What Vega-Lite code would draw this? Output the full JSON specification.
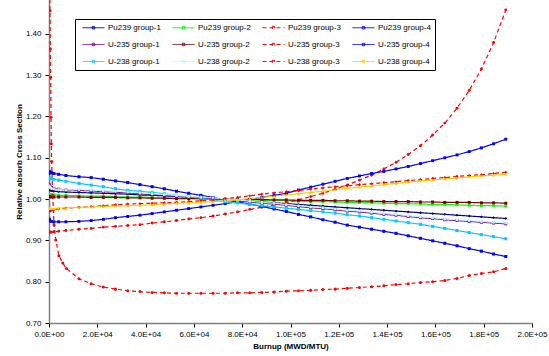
{
"$schema":"https://vega.github.io/schema/vega-lite/v6.json",
"width":483,"height":323,
"autosize":{"type":"none"},
"padding":{"left":49,"top":0,"right":17,"bottom":33},
"background":"white",
"config":{"view":{"stroke":null},"font":"Liberation Sans",
"axis":{"labelFont":"Liberation Sans","labelFontSize":8,"labelColor":"#000","titleFont":"Liberation Sans","titleFontSize":8,"titleFontWeight":"bold","titleColor":"#000","grid":false,"tickColor":"#000","tickSize":4,"domainColor":"#808080","domainWidth":1.5},
"legend":{"symbolStrokeWidth":1,"labelFont":"Liberation Sans","labelFontSize":8,"labelColor":"#000","padding":4,"rowPadding":8,"columnPadding":8,"gridAlign":"all","strokeColor":"#000","fillColor":"#fff"}},
"data":{"values":[
{"s":"Pu239 group-1","x":0,"y":1.024},{"s":"Pu239 group-1","x":200,"y":1.022},{"s":"Pu239 group-1","x":500,"y":1.021},{"s":"Pu239 group-1","x":1000,"y":1.020},{"s":"Pu239 group-1","x":2000,"y":1.019},{"s":"Pu239 group-1","x":4000,"y":1.018},{"s":"Pu239 group-1","x":7000,"y":1.017},
{"s":"Pu239 group-1","x":12400,"y":1.016},{"s":"Pu239 group-1","x":17450,"y":1.015},{"s":"Pu239 group-1","x":22500,"y":1.014},{"s":"Pu239 group-1","x":27550,"y":1.013},{"s":"Pu239 group-1","x":32600,"y":1.012},{"s":"Pu239 group-1","x":37650,"y":1.010},{"s":"Pu239 group-1","x":42700,"y":1.009},{"s":"Pu239 group-1","x":47750,"y":1.008},{"s":"Pu239 group-1","x":52800,"y":1.006},{"s":"Pu239 group-1","x":57850,"y":1.005},{"s":"Pu239 group-1","x":62900,"y":1.003},{"s":"Pu239 group-1","x":67950,"y":1.001},{"s":"Pu239 group-1","x":73000,"y":0.999},{"s":"Pu239 group-1","x":78050,"y":0.997},{"s":"Pu239 group-1","x":83100,"y":0.995},{"s":"Pu239 group-1","x":88150,"y":0.993},{"s":"Pu239 group-1","x":93200,"y":0.991},{"s":"Pu239 group-1","x":98250,"y":0.989},{"s":"Pu239 group-1","x":103300,"y":0.987},{"s":"Pu239 group-1","x":108350,"y":0.985},{"s":"Pu239 group-1","x":113400,"y":0.983},{"s":"Pu239 group-1","x":118450,"y":0.981},{"s":"Pu239 group-1","x":123500,"y":0.979},{"s":"Pu239 group-1","x":128550,"y":0.977},{"s":"Pu239 group-1","x":133600,"y":0.975},{"s":"Pu239 group-1","x":138650,"y":0.973},{"s":"Pu239 group-1","x":143700,"y":0.971},{"s":"Pu239 group-1","x":148750,"y":0.969},{"s":"Pu239 group-1","x":153800,"y":0.967},{"s":"Pu239 group-1","x":158850,"y":0.965},{"s":"Pu239 group-1","x":163900,"y":0.963},{"s":"Pu239 group-1","x":168950,"y":0.961},{"s":"Pu239 group-1","x":174000,"y":0.959},{"s":"Pu239 group-1","x":179050,"y":0.957},{"s":"Pu239 group-1","x":184100,"y":0.955},{"s":"Pu239 group-1","x":189150,"y":0.953},
{"s":"Pu239 group-2","x":0,"y":1.011},{"s":"Pu239 group-2","x":200,"y":1.011},{"s":"Pu239 group-2","x":500,"y":1.010},{"s":"Pu239 group-2","x":1000,"y":1.010},{"s":"Pu239 group-2","x":2000,"y":1.010},{"s":"Pu239 group-2","x":4000,"y":1.009},{"s":"Pu239 group-2","x":7000,"y":1.009},
{"s":"Pu239 group-2","x":12400,"y":1.008},{"s":"Pu239 group-2","x":17450,"y":1.007},{"s":"Pu239 group-2","x":22500,"y":1.007},{"s":"Pu239 group-2","x":27550,"y":1.006},{"s":"Pu239 group-2","x":32600,"y":1.005},{"s":"Pu239 group-2","x":37650,"y":1.005},{"s":"Pu239 group-2","x":42700,"y":1.004},{"s":"Pu239 group-2","x":47750,"y":1.003},{"s":"Pu239 group-2","x":52800,"y":1.002},{"s":"Pu239 group-2","x":57850,"y":1.002},{"s":"Pu239 group-2","x":62900,"y":1.001},{"s":"Pu239 group-2","x":67950,"y":1.000},{"s":"Pu239 group-2","x":73000,"y":0.999},{"s":"Pu239 group-2","x":78050,"y":0.999},{"s":"Pu239 group-2","x":83100,"y":0.998},{"s":"Pu239 group-2","x":88150,"y":0.997},{"s":"Pu239 group-2","x":93200,"y":0.997},{"s":"Pu239 group-2","x":98250,"y":0.996},{"s":"Pu239 group-2","x":103300,"y":0.995},{"s":"Pu239 group-2","x":108350,"y":0.994},{"s":"Pu239 group-2","x":113400,"y":0.994},{"s":"Pu239 group-2","x":118450,"y":0.993},{"s":"Pu239 group-2","x":123500,"y":0.992},{"s":"Pu239 group-2","x":128550,"y":0.992},{"s":"Pu239 group-2","x":133600,"y":0.991},{"s":"Pu239 group-2","x":138650,"y":0.990},{"s":"Pu239 group-2","x":143700,"y":0.989},{"s":"Pu239 group-2","x":148750,"y":0.989},{"s":"Pu239 group-2","x":153800,"y":0.988},{"s":"Pu239 group-2","x":158850,"y":0.987},{"s":"Pu239 group-2","x":163900,"y":0.987},{"s":"Pu239 group-2","x":168950,"y":0.986},{"s":"Pu239 group-2","x":174000,"y":0.985},{"s":"Pu239 group-2","x":179050,"y":0.984},{"s":"Pu239 group-2","x":184100,"y":0.984},{"s":"Pu239 group-2","x":189150,"y":0.983},
{"s":"Pu239 group-3","x":0,"y":0.921},{"s":"Pu239 group-3","x":200,"y":0.920},{"s":"Pu239 group-3","x":500,"y":0.920},{"s":"Pu239 group-3","x":1000,"y":0.920},{"s":"Pu239 group-3","x":2000,"y":0.921},{"s":"Pu239 group-3","x":4000,"y":0.922},{"s":"Pu239 group-3","x":7000,"y":0.924},
{"s":"Pu239 group-3","x":12400,"y":0.927},{"s":"Pu239 group-3","x":17450,"y":0.929},{"s":"Pu239 group-3","x":22500,"y":0.932},{"s":"Pu239 group-3","x":27550,"y":0.934},{"s":"Pu239 group-3","x":32600,"y":0.936},{"s":"Pu239 group-3","x":37650,"y":0.938},{"s":"Pu239 group-3","x":42700,"y":0.942},{"s":"Pu239 group-3","x":47750,"y":0.945},{"s":"Pu239 group-3","x":52800,"y":0.948},{"s":"Pu239 group-3","x":57850,"y":0.952},{"s":"Pu239 group-3","x":62900,"y":0.955},{"s":"Pu239 group-3","x":67950,"y":0.959},{"s":"Pu239 group-3","x":73000,"y":0.964},{"s":"Pu239 group-3","x":78050,"y":0.969},{"s":"Pu239 group-3","x":83100,"y":0.975},{"s":"Pu239 group-3","x":88150,"y":0.980},{"s":"Pu239 group-3","x":93200,"y":0.986},{"s":"Pu239 group-3","x":98250,"y":0.991},{"s":"Pu239 group-3","x":103300,"y":0.998},{"s":"Pu239 group-3","x":108350,"y":1.006},{"s":"Pu239 group-3","x":113400,"y":1.014},{"s":"Pu239 group-3","x":118450,"y":1.024},{"s":"Pu239 group-3","x":123500,"y":1.034},{"s":"Pu239 group-3","x":128550,"y":1.046},{"s":"Pu239 group-3","x":133600,"y":1.058},{"s":"Pu239 group-3","x":138650,"y":1.073},{"s":"Pu239 group-3","x":143700,"y":1.089},{"s":"Pu239 group-3","x":148750,"y":1.108},{"s":"Pu239 group-3","x":153800,"y":1.129},{"s":"Pu239 group-3","x":158850,"y":1.155},{"s":"Pu239 group-3","x":163900,"y":1.184},{"s":"Pu239 group-3","x":168950,"y":1.220},{"s":"Pu239 group-3","x":174000,"y":1.263},{"s":"Pu239 group-3","x":179050,"y":1.315},{"s":"Pu239 group-3","x":184100,"y":1.379},{"s":"Pu239 group-3","x":189150,"y":1.458},
{"s":"Pu239 group-4","x":0,"y":0.952},{"s":"Pu239 group-4","x":200,"y":0.950},{"s":"Pu239 group-4","x":500,"y":0.947},{"s":"Pu239 group-4","x":1000,"y":0.946},{"s":"Pu239 group-4","x":2000,"y":0.945},{"s":"Pu239 group-4","x":4000,"y":0.945},{"s":"Pu239 group-4","x":7000,"y":0.945},
{"s":"Pu239 group-4","x":12400,"y":0.946},{"s":"Pu239 group-4","x":17450,"y":0.948},{"s":"Pu239 group-4","x":22500,"y":0.951},{"s":"Pu239 group-4","x":27550,"y":0.955},{"s":"Pu239 group-4","x":32600,"y":0.958},{"s":"Pu239 group-4","x":37650,"y":0.961},{"s":"Pu239 group-4","x":42700,"y":0.965},{"s":"Pu239 group-4","x":47750,"y":0.969},{"s":"Pu239 group-4","x":52800,"y":0.973},{"s":"Pu239 group-4","x":57850,"y":0.977},{"s":"Pu239 group-4","x":62900,"y":0.981},{"s":"Pu239 group-4","x":67950,"y":0.985},{"s":"Pu239 group-4","x":73000,"y":0.989},{"s":"Pu239 group-4","x":78050,"y":0.994},{"s":"Pu239 group-4","x":83100,"y":0.999},{"s":"Pu239 group-4","x":88150,"y":1.004},{"s":"Pu239 group-4","x":93200,"y":1.009},{"s":"Pu239 group-4","x":98250,"y":1.014},{"s":"Pu239 group-4","x":103300,"y":1.022},{"s":"Pu239 group-4","x":108350,"y":1.029},{"s":"Pu239 group-4","x":113400,"y":1.036},{"s":"Pu239 group-4","x":118450,"y":1.043},{"s":"Pu239 group-4","x":123500,"y":1.050},{"s":"Pu239 group-4","x":128550,"y":1.056},{"s":"Pu239 group-4","x":133600,"y":1.062},{"s":"Pu239 group-4","x":138650,"y":1.067},{"s":"Pu239 group-4","x":143700,"y":1.073},{"s":"Pu239 group-4","x":148750,"y":1.079},{"s":"Pu239 group-4","x":153800,"y":1.086},{"s":"Pu239 group-4","x":158850,"y":1.093},{"s":"Pu239 group-4","x":163900,"y":1.100},{"s":"Pu239 group-4","x":168950,"y":1.107},{"s":"Pu239 group-4","x":174000,"y":1.115},{"s":"Pu239 group-4","x":179050,"y":1.124},{"s":"Pu239 group-4","x":184100,"y":1.134},{"s":"Pu239 group-4","x":189150,"y":1.145},
{"s":"U-235 group-1","x":0,"y":1.036},{"s":"U-235 group-1","x":200,"y":1.033},{"s":"U-235 group-1","x":500,"y":1.030},{"s":"U-235 group-1","x":1000,"y":1.028},{"s":"U-235 group-1","x":2000,"y":1.026},{"s":"U-235 group-1","x":4000,"y":1.024},{"s":"U-235 group-1","x":7000,"y":1.022},
{"s":"U-235 group-1","x":12400,"y":1.021},{"s":"U-235 group-1","x":17450,"y":1.020},{"s":"U-235 group-1","x":22500,"y":1.018},{"s":"U-235 group-1","x":27550,"y":1.017},{"s":"U-235 group-1","x":32600,"y":1.015},{"s":"U-235 group-1","x":37650,"y":1.013},{"s":"U-235 group-1","x":42700,"y":1.011},{"s":"U-235 group-1","x":47750,"y":1.009},{"s":"U-235 group-1","x":52800,"y":1.007},{"s":"U-235 group-1","x":57850,"y":1.005},{"s":"U-235 group-1","x":62900,"y":1.003},{"s":"U-235 group-1","x":67950,"y":1.001},{"s":"U-235 group-1","x":73000,"y":0.998},{"s":"U-235 group-1","x":78050,"y":0.996},{"s":"U-235 group-1","x":83100,"y":0.993},{"s":"U-235 group-1","x":88150,"y":0.990},{"s":"U-235 group-1","x":93200,"y":0.988},{"s":"U-235 group-1","x":98250,"y":0.985},{"s":"U-235 group-1","x":103300,"y":0.982},{"s":"U-235 group-1","x":108350,"y":0.979},{"s":"U-235 group-1","x":113400,"y":0.977},{"s":"U-235 group-1","x":118450,"y":0.974},{"s":"U-235 group-1","x":123500,"y":0.971},{"s":"U-235 group-1","x":128550,"y":0.969},{"s":"U-235 group-1","x":133600,"y":0.966},{"s":"U-235 group-1","x":138650,"y":0.963},{"s":"U-235 group-1","x":143700,"y":0.961},{"s":"U-235 group-1","x":148750,"y":0.958},{"s":"U-235 group-1","x":153800,"y":0.955},{"s":"U-235 group-1","x":158850,"y":0.953},{"s":"U-235 group-1","x":163900,"y":0.950},{"s":"U-235 group-1","x":168950,"y":0.948},{"s":"U-235 group-1","x":174000,"y":0.946},{"s":"U-235 group-1","x":179050,"y":0.944},{"s":"U-235 group-1","x":184100,"y":0.942},{"s":"U-235 group-1","x":189150,"y":0.940},
{"s":"U-235 group-2","x":0,"y":1.006},{"s":"U-235 group-2","x":200,"y":1.006},{"s":"U-235 group-2","x":500,"y":1.006},{"s":"U-235 group-2","x":1000,"y":1.005},{"s":"U-235 group-2","x":2000,"y":1.005},{"s":"U-235 group-2","x":4000,"y":1.005},{"s":"U-235 group-2","x":7000,"y":1.005},
{"s":"U-235 group-2","x":12400,"y":1.005},{"s":"U-235 group-2","x":17450,"y":1.004},{"s":"U-235 group-2","x":22500,"y":1.004},{"s":"U-235 group-2","x":27550,"y":1.004},{"s":"U-235 group-2","x":32600,"y":1.003},{"s":"U-235 group-2","x":37650,"y":1.003},{"s":"U-235 group-2","x":42700,"y":1.002},{"s":"U-235 group-2","x":47750,"y":1.002},{"s":"U-235 group-2","x":52800,"y":1.001},{"s":"U-235 group-2","x":57850,"y":1.001},{"s":"U-235 group-2","x":62900,"y":1.001},{"s":"U-235 group-2","x":67950,"y":1.000},{"s":"U-235 group-2","x":73000,"y":1.000},{"s":"U-235 group-2","x":78050,"y":0.999},{"s":"U-235 group-2","x":83100,"y":0.999},{"s":"U-235 group-2","x":88150,"y":0.999},{"s":"U-235 group-2","x":93200,"y":0.998},{"s":"U-235 group-2","x":98250,"y":0.998},{"s":"U-235 group-2","x":103300,"y":0.997},{"s":"U-235 group-2","x":108350,"y":0.997},{"s":"U-235 group-2","x":113400,"y":0.997},{"s":"U-235 group-2","x":118450,"y":0.996},{"s":"U-235 group-2","x":123500,"y":0.996},{"s":"U-235 group-2","x":128550,"y":0.995},{"s":"U-235 group-2","x":133600,"y":0.995},{"s":"U-235 group-2","x":138650,"y":0.994},{"s":"U-235 group-2","x":143700,"y":0.994},{"s":"U-235 group-2","x":148750,"y":0.994},{"s":"U-235 group-2","x":153800,"y":0.993},{"s":"U-235 group-2","x":158850,"y":0.993},{"s":"U-235 group-2","x":163900,"y":0.992},{"s":"U-235 group-2","x":168950,"y":0.992},{"s":"U-235 group-2","x":174000,"y":0.992},{"s":"U-235 group-2","x":179050,"y":0.991},{"s":"U-235 group-2","x":184100,"y":0.991},{"s":"U-235 group-2","x":189150,"y":0.990},
{"s":"U-235 group-3","x":0,"y":1.62},{"s":"U-235 group-3","x":400,"y":1.456},{"s":"U-235 group-3","x":550,"y":1.364},{"s":"U-235 group-3","x":700,"y":1.295},{"s":"U-235 group-3","x":850,"y":1.198},{"s":"U-235 group-3","x":950,"y":1.134},{"s":"U-235 group-3","x":1100,"y":1.091},{"s":"U-235 group-3","x":1500,"y":1.010},{"s":"U-235 group-3","x":2100,"y":0.937},{"s":"U-235 group-3","x":2800,"y":0.901},{"s":"U-235 group-3","x":4100,"y":0.863},{"s":"U-235 group-3","x":5700,"y":0.845},{"s":"U-235 group-3","x":7200,"y":0.832},
{"s":"U-235 group-3","x":12400,"y":0.807},{"s":"U-235 group-3","x":17450,"y":0.795},{"s":"U-235 group-3","x":22500,"y":0.787},{"s":"U-235 group-3","x":27550,"y":0.782},{"s":"U-235 group-3","x":32600,"y":0.778},{"s":"U-235 group-3","x":37650,"y":0.776},{"s":"U-235 group-3","x":42700,"y":0.774},{"s":"U-235 group-3","x":47750,"y":0.773},{"s":"U-235 group-3","x":52800,"y":0.772},{"s":"U-235 group-3","x":57850,"y":0.772},{"s":"U-235 group-3","x":62900,"y":0.772},{"s":"U-235 group-3","x":67950,"y":0.772},{"s":"U-235 group-3","x":73000,"y":0.772},{"s":"U-235 group-3","x":78050,"y":0.773},{"s":"U-235 group-3","x":83100,"y":0.773},{"s":"U-235 group-3","x":88150,"y":0.774},{"s":"U-235 group-3","x":93200,"y":0.775},{"s":"U-235 group-3","x":98250,"y":0.777},{"s":"U-235 group-3","x":103300,"y":0.778},{"s":"U-235 group-3","x":108350,"y":0.779},{"s":"U-235 group-3","x":113400,"y":0.781},{"s":"U-235 group-3","x":118450,"y":0.782},{"s":"U-235 group-3","x":123500,"y":0.784},{"s":"U-235 group-3","x":128550,"y":0.786},{"s":"U-235 group-3","x":133600,"y":0.788},{"s":"U-235 group-3","x":138650,"y":0.790},{"s":"U-235 group-3","x":143700,"y":0.793},{"s":"U-235 group-3","x":148750,"y":0.795},{"s":"U-235 group-3","x":153800,"y":0.798},{"s":"U-235 group-3","x":158850,"y":0.800},{"s":"U-235 group-3","x":163900,"y":0.803},{"s":"U-235 group-3","x":168950,"y":0.808},{"s":"U-235 group-3","x":174000,"y":0.815},{"s":"U-235 group-3","x":179050,"y":0.820},{"s":"U-235 group-3","x":184100,"y":0.824},{"s":"U-235 group-3","x":189150,"y":0.832},
{"s":"U-235 group-4","x":0,"y":1.062},{"s":"U-235 group-4","x":200,"y":1.066},{"s":"U-235 group-4","x":500,"y":1.065},{"s":"U-235 group-4","x":1000,"y":1.064},{"s":"U-235 group-4","x":2000,"y":1.062},{"s":"U-235 group-4","x":4000,"y":1.060},{"s":"U-235 group-4","x":7000,"y":1.057},
{"s":"U-235 group-4","x":12400,"y":1.054},{"s":"U-235 group-4","x":17450,"y":1.052},{"s":"U-235 group-4","x":22500,"y":1.048},{"s":"U-235 group-4","x":27550,"y":1.044},{"s":"U-235 group-4","x":32600,"y":1.040},{"s":"U-235 group-4","x":37650,"y":1.035},{"s":"U-235 group-4","x":42700,"y":1.030},{"s":"U-235 group-4","x":47750,"y":1.025},{"s":"U-235 group-4","x":52800,"y":1.019},{"s":"U-235 group-4","x":57850,"y":1.014},{"s":"U-235 group-4","x":62900,"y":1.009},{"s":"U-235 group-4","x":67950,"y":1.004},{"s":"U-235 group-4","x":73000,"y":0.998},{"s":"U-235 group-4","x":78050,"y":0.993},{"s":"U-235 group-4","x":83100,"y":0.988},{"s":"U-235 group-4","x":88150,"y":0.982},{"s":"U-235 group-4","x":93200,"y":0.976},{"s":"U-235 group-4","x":98250,"y":0.970},{"s":"U-235 group-4","x":103300,"y":0.963},{"s":"U-235 group-4","x":108350,"y":0.957},{"s":"U-235 group-4","x":113400,"y":0.950},{"s":"U-235 group-4","x":118450,"y":0.944},{"s":"U-235 group-4","x":123500,"y":0.937},{"s":"U-235 group-4","x":128550,"y":0.932},{"s":"U-235 group-4","x":133600,"y":0.927},{"s":"U-235 group-4","x":138650,"y":0.922},{"s":"U-235 group-4","x":143700,"y":0.917},{"s":"U-235 group-4","x":148750,"y":0.911},{"s":"U-235 group-4","x":153800,"y":0.905},{"s":"U-235 group-4","x":158850,"y":0.899},{"s":"U-235 group-4","x":163900,"y":0.893},{"s":"U-235 group-4","x":168950,"y":0.887},{"s":"U-235 group-4","x":174000,"y":0.880},{"s":"U-235 group-4","x":179050,"y":0.874},{"s":"U-235 group-4","x":184100,"y":0.867},{"s":"U-235 group-4","x":189150,"y":0.861},
{"s":"U-238 group-1","x":0,"y":1.053},{"s":"U-238 group-1","x":200,"y":1.052},{"s":"U-238 group-1","x":500,"y":1.050},{"s":"U-238 group-1","x":1000,"y":1.049},{"s":"U-238 group-1","x":2000,"y":1.048},{"s":"U-238 group-1","x":4000,"y":1.046},{"s":"U-238 group-1","x":7000,"y":1.043},
{"s":"U-238 group-1","x":12400,"y":1.038},{"s":"U-238 group-1","x":17450,"y":1.034},{"s":"U-238 group-1","x":22500,"y":1.030},{"s":"U-238 group-1","x":27550,"y":1.025},{"s":"U-238 group-1","x":32600,"y":1.021},{"s":"U-238 group-1","x":37650,"y":1.019},{"s":"U-238 group-1","x":42700,"y":1.016},{"s":"U-238 group-1","x":47750,"y":1.013},{"s":"U-238 group-1","x":52800,"y":1.009},{"s":"U-238 group-1","x":57850,"y":1.006},{"s":"U-238 group-1","x":62900,"y":1.002},{"s":"U-238 group-1","x":67950,"y":0.998},{"s":"U-238 group-1","x":73000,"y":0.994},{"s":"U-238 group-1","x":78050,"y":0.991},{"s":"U-238 group-1","x":83100,"y":0.987},{"s":"U-238 group-1","x":88150,"y":0.984},{"s":"U-238 group-1","x":93200,"y":0.981},{"s":"U-238 group-1","x":98250,"y":0.978},{"s":"U-238 group-1","x":103300,"y":0.975},{"s":"U-238 group-1","x":108350,"y":0.972},{"s":"U-238 group-1","x":113400,"y":0.969},{"s":"U-238 group-1","x":118450,"y":0.966},{"s":"U-238 group-1","x":123500,"y":0.962},{"s":"U-238 group-1","x":128550,"y":0.959},{"s":"U-238 group-1","x":133600,"y":0.955},{"s":"U-238 group-1","x":138650,"y":0.951},{"s":"U-238 group-1","x":143700,"y":0.947},{"s":"U-238 group-1","x":148750,"y":0.943},{"s":"U-238 group-1","x":153800,"y":0.939},{"s":"U-238 group-1","x":158850,"y":0.934},{"s":"U-238 group-1","x":163900,"y":0.929},{"s":"U-238 group-1","x":168950,"y":0.924},{"s":"U-238 group-1","x":174000,"y":0.919},{"s":"U-238 group-1","x":179050,"y":0.914},{"s":"U-238 group-1","x":184100,"y":0.909},{"s":"U-238 group-1","x":189150,"y":0.904},
{"s":"U-238 group-2","x":0,"y":1.032},{"s":"U-238 group-2","x":200,"y":1.030},{"s":"U-238 group-2","x":500,"y":1.028},{"s":"U-238 group-2","x":1000,"y":1.026},{"s":"U-238 group-2","x":2000,"y":1.025},{"s":"U-238 group-2","x":4000,"y":1.023},{"s":"U-238 group-2","x":7000,"y":1.022},
{"s":"U-238 group-2","x":12400,"y":1.023},{"s":"U-238 group-2","x":17450,"y":1.022},{"s":"U-238 group-2","x":22500,"y":1.020},{"s":"U-238 group-2","x":27550,"y":1.019},{"s":"U-238 group-2","x":32600,"y":1.017},{"s":"U-238 group-2","x":37650,"y":1.015},{"s":"U-238 group-2","x":42700,"y":1.013},{"s":"U-238 group-2","x":47750,"y":1.011},{"s":"U-238 group-2","x":52800,"y":1.009},{"s":"U-238 group-2","x":57850,"y":1.007},{"s":"U-238 group-2","x":62900,"y":1.005},{"s":"U-238 group-2","x":67950,"y":1.003},{"s":"U-238 group-2","x":73000,"y":1.000},{"s":"U-238 group-2","x":78050,"y":0.998},{"s":"U-238 group-2","x":83100,"y":0.995},{"s":"U-238 group-2","x":88150,"y":0.992},{"s":"U-238 group-2","x":93200,"y":0.990},{"s":"U-238 group-2","x":98250,"y":0.987},{"s":"U-238 group-2","x":103300,"y":0.984},{"s":"U-238 group-2","x":108350,"y":0.981},{"s":"U-238 group-2","x":113400,"y":0.979},{"s":"U-238 group-2","x":118450,"y":0.976},{"s":"U-238 group-2","x":123500,"y":0.973},{"s":"U-238 group-2","x":128550,"y":0.971},{"s":"U-238 group-2","x":133600,"y":0.968},{"s":"U-238 group-2","x":138650,"y":0.965},{"s":"U-238 group-2","x":143700,"y":0.963},{"s":"U-238 group-2","x":148750,"y":0.960},{"s":"U-238 group-2","x":153800,"y":0.957},{"s":"U-238 group-2","x":158850,"y":0.955},{"s":"U-238 group-2","x":163900,"y":0.952},{"s":"U-238 group-2","x":168950,"y":0.950},{"s":"U-238 group-2","x":174000,"y":0.948},{"s":"U-238 group-2","x":179050,"y":0.946},{"s":"U-238 group-2","x":184100,"y":0.944},{"s":"U-238 group-2","x":189150,"y":0.942},
{"s":"U-238 group-3","x":0,"y":0.970},{"s":"U-238 group-3","x":200,"y":0.971},{"s":"U-238 group-3","x":500,"y":0.972},{"s":"U-238 group-3","x":1000,"y":0.973},{"s":"U-238 group-3","x":2000,"y":0.974},{"s":"U-238 group-3","x":4000,"y":0.976},{"s":"U-238 group-3","x":7000,"y":0.978},
{"s":"U-238 group-3","x":12400,"y":0.980},{"s":"U-238 group-3","x":17450,"y":0.982},{"s":"U-238 group-3","x":22500,"y":0.984},{"s":"U-238 group-3","x":27550,"y":0.986},{"s":"U-238 group-3","x":32600,"y":0.988},{"s":"U-238 group-3","x":37650,"y":0.989},{"s":"U-238 group-3","x":42700,"y":0.990},{"s":"U-238 group-3","x":47750,"y":0.991},{"s":"U-238 group-3","x":52800,"y":0.992},{"s":"U-238 group-3","x":57850,"y":0.994},{"s":"U-238 group-3","x":62900,"y":0.996},{"s":"U-238 group-3","x":67950,"y":0.998},{"s":"U-238 group-3","x":73000,"y":1.001},{"s":"U-238 group-3","x":78050,"y":1.004},{"s":"U-238 group-3","x":83100,"y":1.008},{"s":"U-238 group-3","x":88150,"y":1.012},{"s":"U-238 group-3","x":93200,"y":1.015},{"s":"U-238 group-3","x":98250,"y":1.018},{"s":"U-238 group-3","x":103300,"y":1.021},{"s":"U-238 group-3","x":108350,"y":1.024},{"s":"U-238 group-3","x":113400,"y":1.027},{"s":"U-238 group-3","x":118450,"y":1.030},{"s":"U-238 group-3","x":123500,"y":1.032},{"s":"U-238 group-3","x":128550,"y":1.035},{"s":"U-238 group-3","x":133600,"y":1.037},{"s":"U-238 group-3","x":138650,"y":1.040},{"s":"U-238 group-3","x":143700,"y":1.042},{"s":"U-238 group-3","x":148750,"y":1.045},{"s":"U-238 group-3","x":153800,"y":1.047},{"s":"U-238 group-3","x":158850,"y":1.050},{"s":"U-238 group-3","x":163900,"y":1.052},{"s":"U-238 group-3","x":168950,"y":1.055},{"s":"U-238 group-3","x":174000,"y":1.057},{"s":"U-238 group-3","x":179050,"y":1.059},{"s":"U-238 group-3","x":184100,"y":1.062},{"s":"U-238 group-3","x":189150,"y":1.065},
{"s":"U-238 group-4","x":0,"y":0.978},{"s":"U-238 group-4","x":200,"y":0.977},{"s":"U-238 group-4","x":500,"y":0.977},{"s":"U-238 group-4","x":1000,"y":0.977},{"s":"U-238 group-4","x":2000,"y":0.977},{"s":"U-238 group-4","x":4000,"y":0.978},{"s":"U-238 group-4","x":7000,"y":0.979},
{"s":"U-238 group-4","x":12400,"y":0.980},{"s":"U-238 group-4","x":17450,"y":0.981},{"s":"U-238 group-4","x":22500,"y":0.982},{"s":"U-238 group-4","x":27550,"y":0.983},{"s":"U-238 group-4","x":32600,"y":0.984},{"s":"U-238 group-4","x":37650,"y":0.985},{"s":"U-238 group-4","x":42700,"y":0.986},{"s":"U-238 group-4","x":47750,"y":0.988},{"s":"U-238 group-4","x":52800,"y":0.990},{"s":"U-238 group-4","x":57850,"y":0.991},{"s":"U-238 group-4","x":62900,"y":0.992},{"s":"U-238 group-4","x":67950,"y":0.994},{"s":"U-238 group-4","x":73000,"y":0.996},{"s":"U-238 group-4","x":78050,"y":0.998},{"s":"U-238 group-4","x":83100,"y":1.001},{"s":"U-238 group-4","x":88150,"y":1.004},{"s":"U-238 group-4","x":93200,"y":1.007},{"s":"U-238 group-4","x":98250,"y":1.010},{"s":"U-238 group-4","x":103300,"y":1.013},{"s":"U-238 group-4","x":108350,"y":1.016},{"s":"U-238 group-4","x":113400,"y":1.019},{"s":"U-238 group-4","x":118450,"y":1.023},{"s":"U-238 group-4","x":123500,"y":1.026},{"s":"U-238 group-4","x":128550,"y":1.029},{"s":"U-238 group-4","x":133600,"y":1.032},{"s":"U-238 group-4","x":138650,"y":1.035},{"s":"U-238 group-4","x":143700,"y":1.038},{"s":"U-238 group-4","x":148750,"y":1.041},{"s":"U-238 group-4","x":153800,"y":1.044},{"s":"U-238 group-4","x":158850,"y":1.046},{"s":"U-238 group-4","x":163900,"y":1.049},{"s":"U-238 group-4","x":168950,"y":1.051},{"s":"U-238 group-4","x":174000,"y":1.054},{"s":"U-238 group-4","x":179050,"y":1.056},{"s":"U-238 group-4","x":184100,"y":1.058},{"s":"U-238 group-4","x":189150,"y":1.060}
]},
"encoding":{
"x":{"field":"x","type":"quantitative","scale":{"domain":[0,200000],"nice":false},"axis":{"values":[0,20000,40000,60000,80000,100000,120000,140000,160000,180000,200000],"labelExpr":"replace(format(datum.value,'.1e'),'e+','E+0')","labelFlush":false,"labelPadding":3,"title":"Burnup (MWD/MTU)","titlePadding":4}},
"y":{"field":"y","type":"quantitative","scale":{"domain":[0.7,1.482],"nice":false,"zero":false},"axis":{"values":[0.7,0.8,0.9,1.0,1.1,1.2,1.3,1.4],"format":".2f","labelPadding":4,"title":"Relative absorb Cross Section","titlePadding":2}}
},
"layer":[
{"mark":{"type":"line","clip":true,"strokeWidth":1.2},
 "encoding":{
 "color":{"field":"s","type":"nominal","scale":{"domain":["Pu239 group-1","Pu239 group-2","Pu239 group-3","Pu239 group-4","U-235 group-1","U-235 group-2","U-235 group-3","U-235 group-4","U-238 group-1","U-238 group-2","U-238 group-3","U-238 group-4"],"range":["#000080","#00FF00","#FF0000","#0000FF","#800080","#800000","#FF0000","#0000FF","#00CCFF","#BFF5FF","#FF0000","#FFCC00"]},"legend":{"title":null,"orient":"none","legendX":26,"legendY":19,"columns":4,"direction":"horizontal","symbolType":"M-0.25,0H5.25M2.2,-0.3H2.8V0.3H2.2Z","symbolSize":64,"labelOffset":20}},
 "strokeDash":{"field":"s","type":"nominal","scale":{"domain":["Pu239 group-1","Pu239 group-2","Pu239 group-3","Pu239 group-4","U-235 group-1","U-235 group-2","U-235 group-3","U-235 group-4","U-238 group-1","U-238 group-2","U-238 group-3","U-238 group-4"],"range":[[1,0],[1,0],[4,3],[1,0],[1,0],[1,0],[4,3],[1,0],[1,0],[1,0],[4,3],[1,0]]},"legend":{"title":null,"orient":"none","legendX":26,"legendY":19,"columns":4,"direction":"horizontal","symbolType":"M-0.25,0H5.25M2.2,-0.3H2.8V0.3H2.2Z","symbolSize":64,"labelOffset":20}}}},
{"mark":{"type":"point","clip":true,"filled":true,"opacity":1},
 "encoding":{
 "fill":{"field":"s","type":"nominal","scale":{"range":["#000080","#00FF00","#FF0000","#0000FF","#800080","#800000","#FF0000","#0000FF","#00CCFF","#BFF5FF","#FF0000","#FFCC00"]},"legend":null},
 "shape":{"field":"s","type":"nominal","scale":{"range":["diamond","square","circle","square","square","square","circle","square","square","circle","diamond","triangle-up"]},"legend":null},
 "size":{"field":"s","type":"nominal","scale":{"range":[8,10,20,8,9,9,20,6,8,10,8,10]},"legend":null}}}
]
}
